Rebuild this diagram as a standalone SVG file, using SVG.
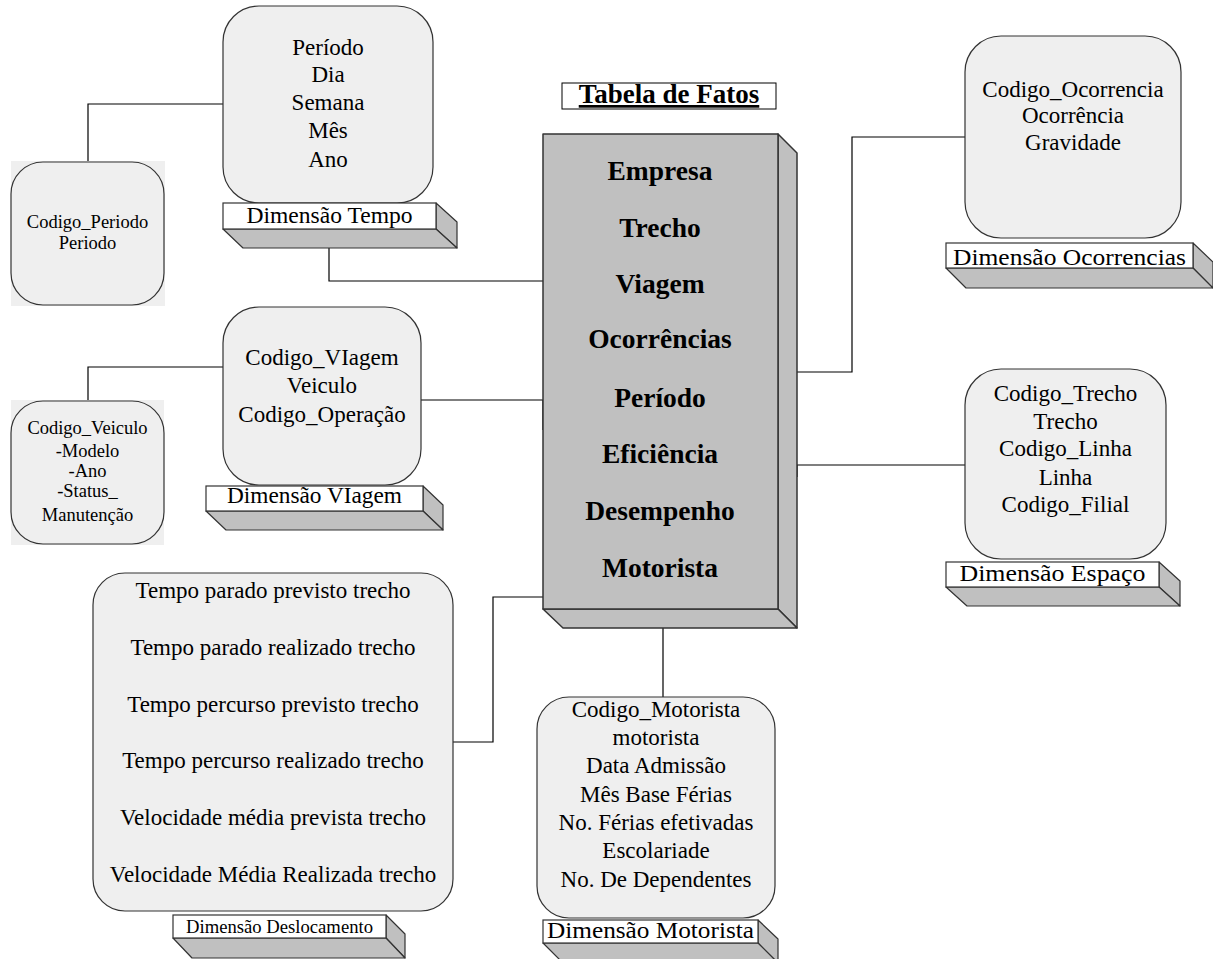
<svg xmlns="http://www.w3.org/2000/svg" width="1213" height="959" viewBox="0 0 1213 959">
  <style>
    .box { fill: #efefef; stroke: #333; stroke-width: 1.2; }
    .bg { fill: #efefef; }
    .bar { fill: #fff; stroke: #333; stroke-width: 1.2; }
    .side { fill: #c0c0c0; stroke: #333; stroke-width: 1.2; stroke-linejoin: round; }
    .fact { fill: #c0c0c0; stroke: #333; stroke-width: 1.5; stroke-linejoin: round; }
    .conn { fill: none; stroke: #000; stroke-width: 1.2; }
    text { fill: #000; text-anchor: middle; }
    .t23 { font-size: 23px; }
    .t18 { font-size: 18.5px; }
    .lbl { font-size: 23px; }
    .bold { font-size: 27.5px; font-weight: bold; }
  </style>

  <g font-family="'Liberation Serif', 'DejaVu Serif', serif">
  <!-- connectors -->
  <g id="connectors">
    <path class="conn" d="M88,162 V104 H223"/>
    <path class="conn" d="M329,248 V281 H543"/>
    <path class="conn" d="M88,401 V367 H223"/>
    <path class="conn" d="M421,400 H543 V430"/>
    <path class="conn" d="M453,742 H493 V597 H543"/>
    <path class="conn" d="M660,609 Q663,614 663,622 V697"/>
    <path class="conn" d="M778,372 H852 V137 H965"/>
    <path class="conn" d="M797,477 V465 H965"/>
  </g>

  <!-- fact table -->
  <g id="fact-table">
    <rect x="562" y="83" width="214" height="26" fill="#fff" stroke="#000" stroke-width="1"/>
    <text x="669" y="103" style="font-size:27px;font-weight:bold;text-decoration:underline">Tabela de Fatos</text>
    <polygon class="fact" points="778,134 797,153 797,628 778,609"/>
    <polygon class="fact" points="543,609 563,628 797,628 778,609"/>
    <rect class="fact" x="543" y="134" width="235" height="475"/>
    <text class="bold" x="660" y="180">Empresa</text>
    <text class="bold" x="660" y="237">Trecho</text>
    <text class="bold" x="660" y="293">Viagem</text>
    <text class="bold" x="660" y="348">Ocorrências</text>
    <text class="bold" x="660" y="407">Período</text>
    <text class="bold" x="660" y="463">Eficiência</text>
    <text class="bold" x="660" y="520">Desempenho</text>
    <text class="bold" x="660" y="577">Motorista</text>
  </g>

  <!-- Dimensão Tempo -->
  <g id="dim-tempo">
    <rect class="box" x="223" y="6" width="210" height="197" rx="36" ry="36"/>
    <text class="t23" x="328" y="55">Período</text>
    <text class="t23" x="328" y="82">Dia</text>
    <text class="t23" x="328" y="110">Semana</text>
    <text class="t23" x="328" y="138">Mês</text>
    <text class="t23" x="328" y="167">Ano</text>
    <polygon class="side" points="436,203 457,222 457,248 436,229"/>
    <polygon class="side" points="223,229 243,248 457,248 436,229"/>
    <rect class="bar" x="223" y="203" width="213" height="26"/>
    <text class="lbl" x="329.5" y="223" textLength="166" lengthAdjust="spacingAndGlyphs">Dimensão Tempo</text>
  </g>

  <!-- Periodo -->
  <g id="periodo">
    <rect class="bg" x="11" y="161" width="154" height="145"/>
    <rect class="box" x="11" y="162" width="153" height="143" rx="32" ry="32"/>
    <text class="t18" x="87.5" y="228">Codigo_Periodo</text>
    <text class="t18" x="87.5" y="249">Periodo</text>
  </g>

  <!-- Dimensão VIagem -->
  <g id="dim-viagem">
    <rect class="box" x="223" y="307" width="198" height="178" rx="36" ry="36"/>
    <text class="t23" x="322" y="365">Codigo_VIagem</text>
    <text class="t23" x="322" y="393">Veiculo</text>
    <text class="t23" x="322" y="422">Codigo_Operação</text>
    <polygon class="side" points="423,486 443,505 443,530 423,511"/>
    <polygon class="side" points="206,511 226,530 443,530 423,511"/>
    <rect class="bar" x="206" y="486" width="217" height="25"/>
    <text class="lbl" x="314.5" y="503" textLength="175" lengthAdjust="spacingAndGlyphs">Dimensão VIagem</text>
  </g>

  <!-- Veiculo -->
  <g id="veiculo">
    <rect class="bg" x="11" y="400" width="153" height="145"/>
    <rect class="box" x="11" y="401" width="153" height="143" rx="32" ry="32"/>
    <text class="t18" x="87.5" y="434">Codigo_Veiculo</text>
    <text class="t18" x="87.5" y="457">-Modelo</text>
    <text class="t18" x="87.5" y="477">-Ano</text>
    <text class="t18" x="87.5" y="497">-Status_</text>
    <text class="t18" x="87.5" y="521">Manutenção</text>
  </g>

  <!-- Dimensão Deslocamento -->
  <g id="dim-deslocamento">
    <rect class="box" x="93" y="573" width="360" height="338" rx="32" ry="32"/>
    <text class="t23" x="273" y="598">Tempo parado previsto trecho</text>
    <text class="t23" x="273" y="655">Tempo parado realizado trecho</text>
    <text class="t23" x="273" y="712">Tempo percurso previsto trecho</text>
    <text class="t23" x="273" y="768">Tempo percurso realizado trecho</text>
    <text class="t23" x="273" y="825">Velocidade média prevista trecho</text>
    <text class="t23" x="273" y="882">Velocidade Média Realizada trecho</text>
    <polygon class="side" points="386,915 405,934 405,958 386,938"/>
    <polygon class="side" points="173,938 192,958 405,958 386,938"/>
    <rect class="bar" x="173" y="915" width="213" height="23"/>
    <text x="279.5" y="933" style="font-size:18px" textLength="187" lengthAdjust="spacingAndGlyphs">Dimensão Deslocamento</text>
  </g>

  <!-- Dimensão Motorista -->
  <g id="dim-motorista">
    <rect class="box" x="537" y="697" width="238" height="221" rx="32" ry="32"/>
    <text class="t23" x="656" y="717">Codigo_Motorista</text>
    <text class="t23" x="656" y="745">motorista</text>
    <text class="t23" x="656" y="773">Data Admissão</text>
    <text class="t23" x="656" y="802">Mês Base Férias</text>
    <text class="t23" x="656" y="830">No. Férias efetivadas</text>
    <text class="t23" x="656" y="858">Escolariade</text>
    <text class="t23" x="656" y="887">No. De Dependentes</text>
    <polygon class="side" points="758,920 778,939 778,963 758,943"/>
    <polygon class="side" points="543,943 563,963 778,963 758,943"/>
    <rect class="bar" x="543" y="920" width="215" height="23"/>
    <text class="lbl" x="650.5" y="938" textLength="207" lengthAdjust="spacingAndGlyphs">Dimensão Motorista</text>
  </g>

  <!-- Dimensão Ocorrencias -->
  <g id="dim-ocorrencias">
    <rect class="box" x="965" y="36" width="216" height="202" rx="36" ry="36"/>
    <text class="t23" x="1073" y="97">Codigo_Ocorrencia</text>
    <text class="t23" x="1073" y="123">Ocorrência</text>
    <text class="t23" x="1073" y="150">Gravidade</text>
    <polygon class="side" points="1193,243 1213,262 1213,288 1193,268"/>
    <polygon class="side" points="946,268 966,288 1213,288 1193,268"/>
    <rect class="bar" x="946" y="243" width="247" height="25"/>
    <text class="lbl" x="1069.5" y="265" textLength="233" lengthAdjust="spacingAndGlyphs">Dimensão Ocorrencias</text>
  </g>

  <!-- Dimensão Espaço -->
  <g id="dim-espaco">
    <rect class="box" x="965" y="369" width="201" height="190" rx="36" ry="36"/>
    <text class="t23" x="1065.5" y="401">Codigo_Trecho</text>
    <text class="t23" x="1065.5" y="429">Trecho</text>
    <text class="t23" x="1065.5" y="456">Codigo_Linha</text>
    <text class="t23" x="1065.5" y="485">Linha</text>
    <text class="t23" x="1065.5" y="512">Codigo_Filial</text>
    <polygon class="side" points="1159,562 1180,581 1180,606 1159,587"/>
    <polygon class="side" points="946,587 967,606 1180,606 1159,587"/>
    <rect class="bar" x="946" y="562" width="213" height="25"/>
    <text class="lbl" x="1052.5" y="581" textLength="186" lengthAdjust="spacingAndGlyphs">Dimensão Espaço</text>
  </g>
  </g>
</svg>
